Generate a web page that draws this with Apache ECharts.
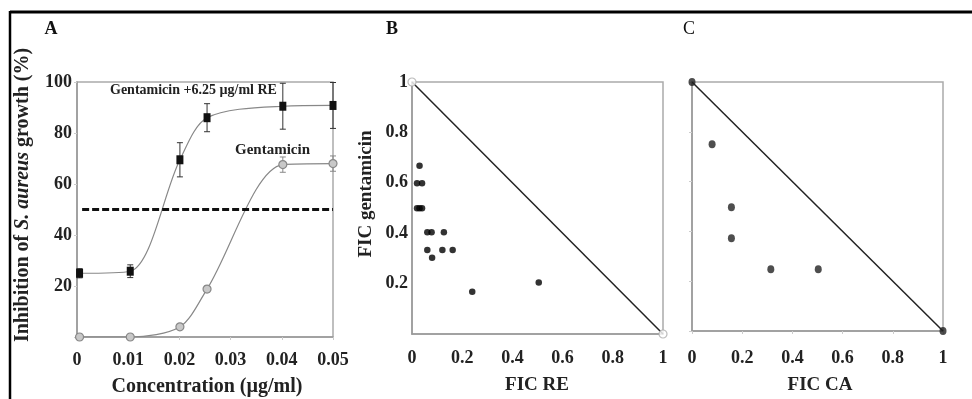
<!DOCTYPE html>
<html><head><meta charset="utf-8">
<script src="https://cdn.jsdelivr.net/npm/echarts@6/dist/echarts.min.js"></script>
<style>html,body{margin:0;padding:0;background:#fff}#c{width:972px;height:399px}</style>
</head><body><div id="c"></div>
<script>
// Panel A data
var concA = [0.0005, 0.0104, 0.0201, 0.0254, 0.0402, 0.05];
var gentRE = [25, 25.8, 69.5, 86, 90.5, 90.8];
var gentREerr = [1.8, 2.5, 6.7, 5.5, 9, 9];
var gent = [0, 0, 4, 18.8, 67.6, 68];
var gentErr = [0, 0, 0.8, 1.2, 3, 3];
var mic50 = 50;
var xTicksA = [0, 0.05, 0.01];
var yTicksA = [0, 100, 20];
// Panel B data
var ficRE_x = [0.03, 0.02, 0.04, 0.02, 0.03, 0.04, 0.061, 0.078, 0.127, 0.061, 0.121, 0.162, 0.080, 0.240, 0.505];
var ficRE_y = [0.668, 0.598, 0.598, 0.499, 0.499, 0.499, 0.404, 0.404, 0.404, 0.333, 0.333, 0.333, 0.303, 0.168, 0.204];
var ficRE_ends_x = [0, 1];
var ficRE_ends_y = [1, 0];
// Panel C data
var ficCA_x = [0, 0.08, 0.157, 0.157, 0.314, 0.503, 1];
var ficCA_y = [1, 0.75, 0.497, 0.372, 0.248, 0.248, 0];
// additivity line
var addX = [0, 1];
var addY = [1, 0];
var ficTicks = [0, 1, 0.2];

var FONT = '"Liberation Serif", "DejaVu Serif", serif';
function zip(a, b) { return a.map(function (v, i) { return [v, b[i]]; }); }
function errData(xs, ys, es) { return xs.map(function (x, i) { return [x, ys[i] - es[i], ys[i] + es[i]]; }); }
function errRender(color) {
  return function (params, api) {
    var lo = api.coord([api.value(0), api.value(1)]);
    var hi = api.coord([api.value(0), api.value(2)]);
    var w = 3;
    return { type: 'group', children: [
      { type: 'line', shape: { x1: lo[0], y1: lo[1], x2: hi[0], y2: hi[1] }, style: { stroke: color, lineWidth: 1 } },
      { type: 'line', shape: { x1: lo[0] - w, y1: lo[1], x2: lo[0] + w, y2: lo[1] }, style: { stroke: color, lineWidth: 1 } },
      { type: 'line', shape: { x1: hi[0] - w, y1: hi[1], x2: hi[0] + w, y2: hi[1] }, style: { stroke: color, lineWidth: 1 } }
    ] };
  };
}
var axisLine = { show: true, lineStyle: { color: '#999', width: 1.5 } };
var tick = { show: true, length: 3, lineStyle: { color: '#ccc' } };
var lbl = { color: '#222', fontFamily: FONT, fontWeight: 'bold', fontSize: 18 };
function hideZero(v) { return v === 0 ? '' : String(v); }

var chart = echarts.init(document.getElementById('c'));
chart.setOption({
  animation: false,
  grid: [
    { left: 77, top: 82, width: 256, height: 255, show: true, borderColor: '#aaa', borderWidth: 1.5 },
    { left: 412, top: 82, width: 251, height: 252, show: true, borderColor: '#aaa', borderWidth: 1.5 },
    { left: 692, top: 82, width: 251, height: 249, show: true, borderColor: '#aaa', borderWidth: 1.5 }
  ],
  xAxis: [
    { gridIndex: 0, type: 'value', min: xTicksA[0], max: xTicksA[1], interval: xTicksA[2], axisLine: axisLine, axisTick: tick, splitLine: { show: false },
      axisLabel: Object.assign({ margin: 14 }, lbl) },
    { gridIndex: 1, type: 'value', min: ficTicks[0], max: ficTicks[1], interval: ficTicks[2], axisLine: axisLine, axisTick: { show: false }, splitLine: { show: false },
      axisLabel: Object.assign({ margin: 15 }, lbl) },
    { gridIndex: 2, type: 'value', min: ficTicks[0], max: ficTicks[1], interval: ficTicks[2], axisLine: axisLine, axisTick: tick, splitLine: { show: false },
      axisLabel: Object.assign({ margin: 18 }, lbl) }
  ],
  yAxis: [
    { gridIndex: 0, type: 'value', min: yTicksA[0], max: yTicksA[1], interval: yTicksA[2], axisLine: axisLine, axisTick: tick, splitLine: { show: false },
      axisLabel: Object.assign({ margin: 5, formatter: hideZero }, lbl) },
    { gridIndex: 1, type: 'value', min: ficTicks[0], max: ficTicks[1], interval: ficTicks[2], axisLine: axisLine, axisTick: { show: false }, splitLine: { show: false },
      axisLabel: Object.assign({ margin: 4, formatter: hideZero }, lbl) },
    { gridIndex: 2, type: 'value', min: ficTicks[0], max: ficTicks[1], interval: ficTicks[2], axisLine: axisLine, axisTick: tick, splitLine: { show: false },
      axisLabel: { show: false } }
  ],
  series: [
    { name: 'Gentamicin + RE', type: 'line', xAxisIndex: 0, yAxisIndex: 0, data: zip(concA, gentRE), smooth: 0.3,
      lineStyle: { color: '#888', width: 1.2 }, symbol: 'rect', symbolSize: [7, 9], itemStyle: { color: '#111' }, z: 4,
      markLine: { silent: true, symbol: 'none', label: { show: false },
        lineStyle: { color: '#111', width: 3, type: [7, 3] },
        data: [[{ coord: [0.001, mic50] }, { coord: [concA[concA.length - 1], mic50] }]] } },
    { type: 'custom', xAxisIndex: 0, yAxisIndex: 0, data: errData(concA, gentRE, gentREerr), renderItem: errRender('#333'), z: 3 },
    { name: 'Gentamicin', type: 'line', xAxisIndex: 0, yAxisIndex: 0, data: zip(concA, gent), smooth: 0.3,
      lineStyle: { color: '#888', width: 1.2 }, symbol: 'circle', symbolSize: 8, itemStyle: { color: '#c8c8c8', borderColor: '#888', borderWidth: 1.2 }, z: 4 },
    { type: 'custom', xAxisIndex: 0, yAxisIndex: 0, data: errData(concA, gent, gentErr), renderItem: errRender('#888'), z: 3 },
    // Panel B
    { type: 'line', xAxisIndex: 1, yAxisIndex: 1, data: zip(addX, addY), symbol: 'none', lineStyle: { color: '#222', width: 1.5 } },
    { type: 'scatter', xAxisIndex: 1, yAxisIndex: 1, data: zip(ficRE_ends_x, ficRE_ends_y), symbolSize: 8,
      itemStyle: { color: '#fff', borderColor: '#aaa', borderWidth: 1.2 }, z: 5 },
    { type: 'scatter', xAxisIndex: 1, yAxisIndex: 1, data: zip(ficRE_x, ficRE_y), symbolSize: 6.5, itemStyle: { color: '#000' } },
    // Panel C
    { type: 'line', xAxisIndex: 2, yAxisIndex: 2, data: zip(addX, addY), symbol: 'none', lineStyle: { color: '#222', width: 1.5 } },
    { type: 'scatter', xAxisIndex: 2, yAxisIndex: 2, data: zip(ficCA_x, ficCA_y), symbol: 'circle', symbolSize: [7, 8], itemStyle: { color: '#222' }, z: 5 }
  ],
  graphic: [
    { type: 'line', shape: { x1: 10, y1: 12, x2: 972, y2: 12 }, style: { stroke: '#000', lineWidth: 3 } },
    { type: 'line', shape: { x1: 10, y1: 11, x2: 10, y2: 399 }, style: { stroke: '#000', lineWidth: 2.5 } },
    { type: 'text', x: 51, y: 29, style: { text: 'A', font: 'bold 18px ' + FONT, fill: '#111', textAlign: 'center', textVerticalAlign: 'middle' } },
    { type: 'text', x: 392, y: 29, style: { text: 'B', font: 'bold 18px ' + FONT, fill: '#111', textAlign: 'center', textVerticalAlign: 'middle' } },
    { type: 'text', x: 689, y: 29, style: { text: 'C', font: '18px ' + FONT, fill: '#111', textAlign: 'center', textVerticalAlign: 'middle' } },
    { type: 'text', x: 110, y: 90, style: { text: 'Gentamicin +6.25 µg/ml RE', font: 'bold 14px ' + FONT, fill: '#222', textVerticalAlign: 'middle' } },
    { type: 'text', x: 235, y: 150, style: { text: 'Gentamicin', font: 'bold 15px ' + FONT, fill: '#222', textVerticalAlign: 'middle' } },
    { type: 'text', x: 23, y: 195, rotation: Math.PI / 2,
      style: { text: 'Inhibition of {i|S. aureus} growth (%)', font: 'bold 20px ' + FONT, fill: '#222', textAlign: 'center', textVerticalAlign: 'middle',
        rich: { i: { fontStyle: 'italic', fontWeight: 'bold', fontSize: 20, fontFamily: FONT, fill: '#222' } } } },
    { type: 'text', x: 207, y: 387, style: { text: 'Concentration (µg/ml)', font: 'bold 20px ' + FONT, fill: '#222', textAlign: 'center', textVerticalAlign: 'middle' } },
    { type: 'text', x: 366, y: 194, rotation: Math.PI / 2, style: { text: 'FIC gentamicin', font: 'bold 19px ' + FONT, fill: '#222', textAlign: 'center', textVerticalAlign: 'middle' } },
    { type: 'text', x: 537, y: 385, style: { text: 'FIC RE', font: 'bold 19px ' + FONT, fill: '#222', textAlign: 'center', textVerticalAlign: 'middle' } },
    { type: 'text', x: 820, y: 385, style: { text: 'FIC CA', font: 'bold 19px ' + FONT, fill: '#222', textAlign: 'center', textVerticalAlign: 'middle' } }
  ]
});
</script></body></html>
